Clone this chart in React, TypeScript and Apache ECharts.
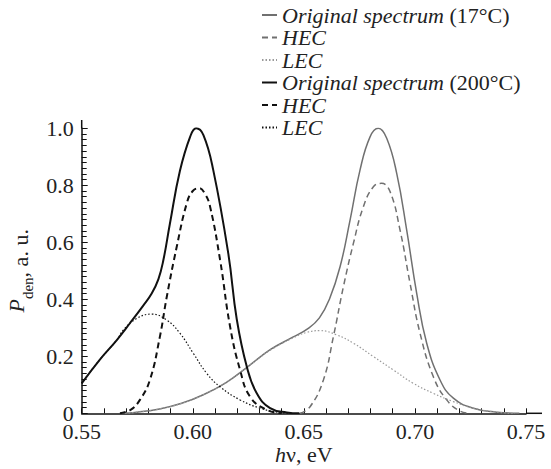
import React, { useEffect, useRef } from "react";
import * as echarts from "echarts";

// photon energy (eV) / spectral density (a.u.) pairs
const orig200: number[][] = [
  [0.55, 0.105], [0.558, 0.187], [0.5658, 0.257], [0.5717, 0.316], [0.5777, 0.378],
  [0.5815, 0.42], [0.5845, 0.47], [0.5867, 0.535], [0.5897, 0.665], [0.5942, 0.85],
  [0.5988, 0.97], [0.6015, 1.0], [0.6048, 0.976], [0.6092, 0.854], [0.616, 0.56],
  [0.6198, 0.33], [0.6243, 0.164], [0.6288, 0.07], [0.6348, 0.018], [0.6423, 0.003], [0.648, 0],
];
const hec200: number[][] = [
  [0.5672, 0], [0.572, 0.012], [0.5762, 0.047], [0.5807, 0.117], [0.5852, 0.269],
  [0.5883, 0.409], [0.5928, 0.585], [0.5973, 0.737], [0.6, 0.78], [0.6029, 0.79],
  [0.6055, 0.77], [0.6078, 0.725], [0.6123, 0.538], [0.6168, 0.304], [0.6213, 0.152],
  [0.6258, 0.058], [0.6333, 0.012], [0.64, 0],
];
const lec200: number[][] = [
  [0.55, 0.105], [0.558, 0.187], [0.5658, 0.257], [0.5687, 0.292], [0.5748, 0.333],
  [0.5815, 0.348], [0.5883, 0.327], [0.5942, 0.281], [0.6002, 0.211], [0.6063, 0.14],
  [0.6123, 0.093], [0.6213, 0.047], [0.6303, 0.018], [0.639, 0.003], [0.645, 0],
];
const orig17: number[][] = [
  [0.568, 0], [0.575, 0.004], [0.585, 0.015], [0.595, 0.035], [0.605, 0.066],
  [0.615, 0.108], [0.625, 0.165], [0.635, 0.224], [0.645, 0.267], [0.652, 0.298],
  [0.657, 0.335], [0.6615, 0.4], [0.6663, 0.514], [0.6708, 0.678], [0.6753, 0.854],
  [0.6798, 0.97], [0.6835, 1.0], [0.6873, 0.965], [0.6918, 0.842], [0.6963, 0.643],
  [0.7008, 0.421], [0.7053, 0.246], [0.7113, 0.117], [0.7173, 0.053], [0.7263, 0.018],
  [0.7368, 0.004], [0.747, 0],
];
const hec17: number[][] = [
  [0.6483, 0], [0.6528, 0.023], [0.6588, 0.117], [0.6633, 0.269], [0.6678, 0.444],
  [0.6723, 0.596], [0.6768, 0.725], [0.6813, 0.795], [0.685, 0.807], [0.6888, 0.778],
  [0.6933, 0.643], [0.6978, 0.456], [0.7023, 0.281], [0.7083, 0.128], [0.7143, 0.047],
  [0.7203, 0.008], [0.725, 0],
];
const lec17: number[][] = [
  [0.568, 0], [0.575, 0.004], [0.585, 0.015], [0.595, 0.035], [0.605, 0.066],
  [0.615, 0.108], [0.625, 0.165], [0.635, 0.222], [0.645, 0.264], [0.6513, 0.284],
  [0.6573, 0.29], [0.6648, 0.275], [0.6723, 0.246], [0.6813, 0.199],
  [0.6903, 0.152], [0.6993, 0.105], [0.7083, 0.07], [0.7173, 0.041], [0.7263, 0.018],
  [0.737, 0.004], [0.745, 0],
];

const seriesNames = [
  "Original spectrum (17°C)", "HEC (17°C)", "LEC (17°C)",
  "Original spectrum (200°C)", "HEC (200°C)", "LEC (200°C)",
];
const legendLabels = [
  "{i|Original spectrum} (17°C)", "{i|HEC}", "{i|LEC}",
  "{i|Original spectrum} (200°C)", "{i|HEC}", "{i|LEC}",
];
const xTickLabels = ["0.55", "0.60", "0.65", "0.70", "0.75"];
const yTickLabels = ["0", "0.2", "0.4", "0.6", "0.8", "1.0"];

const FONT = "'Liberation Serif', 'Times New Roman', serif";
const FS = 22;
const TXT = "#222";
const GREY = "#707070";
const LGREY = "#9a9a9a";
const BLACK = "#111111";

export default function App() {
  const ref = useRef<HTMLDivElement>(null);
  useEffect(() => {
    if (!ref.current) return;
    const chart = echarts.init(ref.current, null, { renderer: "svg" });
    const mk = (name: string, data: number[][], color: string, width: number, type: any) => ({
      name,
      type: "line",
      data,
      smooth: 0.45,
      symbol: "none",
      clip: true,
      lineStyle: { color, width, type },
      itemStyle: { color },
    });
    chart.setOption({
      animation: false,
      backgroundColor: "#ffffff",
      grid: {
        left: 81.7, right: 25, top: 128.3, bottom: 55.7,
        containLabel: false, outerBoundsMode: "none",
      },
      legend: {
        orient: "vertical",
        left: 261,
        top: 4,
        padding: 0,
        itemWidth: 15,
        itemHeight: 10,
        itemGap: 0.5,
        data: seriesNames,
        itemStyle: { opacity: 0 },
        formatter: (n: string) => legendLabels[seriesNames.indexOf(n)],
        textStyle: {
          fontFamily: FONT,
          fontSize: FS,
          color: TXT,
          lineHeight: 22,
          rich: {
            i: { fontFamily: FONT, fontSize: FS, fontStyle: "italic", color: TXT, lineHeight: 22 },
          },
        },
      },
      xAxis: {
        type: "value",
        min: 0.55,
        max: 0.75,
        interval: 0.05,
        name: "{i|h}ν, eV",
        nameLocation: "middle",
        nameGap: 30,
        nameMoveOverlap: false,
        nameTextStyle: {
          fontFamily: FONT,
          fontSize: FS,
          color: TXT,
          lineHeight: 22,
          rich: { i: { fontFamily: FONT, fontSize: FS, fontStyle: "italic", color: TXT, lineHeight: 22 } },
        },
        axisLine: { lineStyle: { color: BLACK, width: 1.5 } },
        axisTick: { inside: true, length: 5, lineStyle: { color: BLACK, width: 1 } },
        minorTick: { show: true, splitNumber: 5, length: 5, lineStyle: { color: BLACK, width: 1 } },
        splitLine: { show: false },
        axisLabel: {
          fontFamily: FONT,
          fontSize: FS,
          color: TXT,
          lineHeight: 16,
          margin: 10,
          formatter: (v: number) => {
            const i = Math.round((v - 0.55) / 0.05);
            return Math.abs(v - (0.55 + i * 0.05)) < 1e-6 ? xTickLabels[i] ?? "" : "";
          },
        },
      },
      yAxis: {
        type: "value",
        min: 0,
        max: 1,
        interval: 0.2,
        name: "{i|P}{s|den}, a. u.",
        nameLocation: "middle",
        nameRotate: 90,
        nameGap: 44,
        nameTextStyle: {
          fontFamily: FONT,
          fontSize: FS,
          color: TXT,
          lineHeight: 30,
          verticalAlign: "top",
          rich: {
            i: { fontFamily: FONT, fontSize: FS, fontStyle: "italic", color: TXT, lineHeight: 30, verticalAlign: "top" },
            s: { fontFamily: FONT, fontSize: 15, color: TXT, lineHeight: 15, verticalAlign: "bottom" },
          },
        },
        axisLine: { lineStyle: { color: BLACK, width: 1.5 } },
        axisTick: { inside: true, length: 6, lineStyle: { color: BLACK, width: 1 } },
        minorTick: { show: true, splitNumber: 10, length: 5, lineStyle: { color: BLACK, width: 1 } },
        splitLine: { show: false },
        axisLabel: {
          fontFamily: FONT,
          fontSize: FS,
          color: TXT,
          lineHeight: 16,
          margin: 8,
          formatter: (v: number) => yTickLabels[Math.round(v / 0.2)] ?? "",
        },
      },
      graphic: [
        { type: "line", shape: { x1: 81.7, y1: 120, x2: 81.7, y2: 128.3 }, style: { stroke: BLACK, lineWidth: 1.5 } },
        { type: "line", shape: { x1: 526, y1: 413.3, x2: 542, y2: 413.3 }, style: { stroke: BLACK, lineWidth: 1.5 } },
      ],
      series: [
        mk(seriesNames[0], orig17, GREY, 1.5, "solid"),
        mk(seriesNames[1], hec17, GREY, 1.5, [6, 4]),
        mk(seriesNames[2], lec17, LGREY, 1.2, [1.5, 2]),
        mk(seriesNames[3], orig200, BLACK, 2, "solid"),
        mk(seriesNames[4], hec200, BLACK, 2, [6, 4]),
        mk(seriesNames[5], lec200, BLACK, 1.2, [1.5, 2]),
      ],
    });
    return () => chart.dispose();
  }, []);
  return (
    <div
      ref={ref}
      style={{ position: "absolute", left: 0, top: 0, width: 551, height: 469, background: "#fff" }}
    />
  );
}
